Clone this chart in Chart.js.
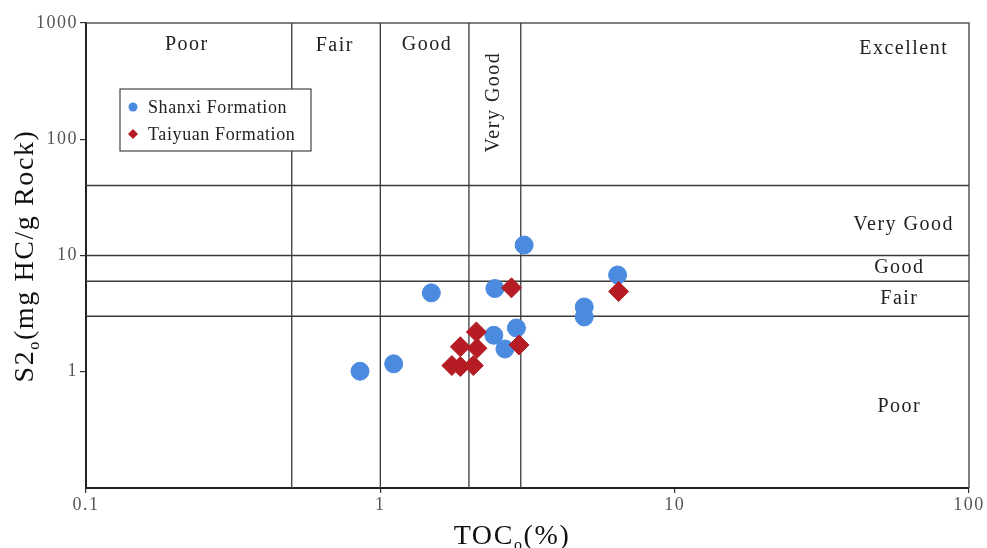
<!DOCTYPE html>
<html>
<head>
<meta charset="utf-8">
<script src="https://cdn.jsdelivr.net/npm/chart.js@4.4.1/dist/chart.umd.min.js"></script>
<style>
  html, body { margin: 0; padding: 0; background: #fff; }
</style>
</head>
<body>
<canvas id="chart" width="987" height="548"></canvas>
<script>
// TOC (%) and S2 (mg HC/g Rock)
const shanxiToc = [3.08, 1.49, 2.45, 6.4, 4.93, 4.93, 2.9, 2.43, 2.65, 1.11, 0.853];
const shanxiS2 = [12.3, 4.77, 5.2, 6.8, 3.61, 2.96, 2.38, 2.06, 1.57, 1.17, 1.01];
const taiyuanToc = [2.79, 6.45, 2.12, 1.87, 2.13, 2.96, 1.75, 1.87, 2.07];
const taiyuanS2 = [5.27, 4.9, 2.2, 1.64, 1.59, 1.7, 1.13, 1.11, 1.13];

// classification boundaries
const tocCuts = [0.5, 1, 2, 3];
const s2Cuts = [3, 6, 10, 40];

const xTicks = [0.1, 1, 10, 100];
const yTicks = [1, 10, 100, 1000];
const xRange = [0.1, 100];
const yRange = [0.1, 1000];

// zone names, anchored in data units
const tocZones = [
  { text: "Poor", x: 0.22, y: 650 },
  { text: "Fair", x: 0.70, y: 640 },
  { text: "Good", x: 1.44, y: 650 },
  { text: "Excellent", x: 60, y: 600 }
];
const s2Zones = [
  { text: "Very Good", x: 60, y: 18.3 },
  { text: "Good", x: 58, y: 7.8 },
  { text: "Fair", x: 58, y: 4.23 },
  { text: "Poor", x: 58, y: 0.5 }
];
const rotatedZone = { text: "Very Good", x: 2.43, y: 209 };

const SERIF = "'Liberation Serif', 'Times New Roman', serif";

function toPoints(xs, ys) {
  return xs.map((x, i) => ({ x: x, y: ys[i] }));
}

const cutLines = [];
tocCuts.forEach((c) => {
  cutLines.push({
    type: "line",
    data: [{ x: c, y: yRange[0] }, { x: c, y: yRange[1] }],
    borderColor: "#3a3a3a",
    borderWidth: 1.3,
    pointRadius: 0,
    order: 5,
  });
});
s2Cuts.forEach((c) => {
  cutLines.push({
    type: "line",
    data: [{ x: xRange[0], y: c }, { x: xRange[1], y: c }],
    borderColor: "#3a3a3a",
    borderWidth: 1.5,
    pointRadius: 0,
    order: 5,
  });
});

function drawSubText(ctx, parts, size, subSize) {
  // draws from current origin on baseline
  let w = 0;
  parts.forEach((p) => {
    ctx.font = (p.sub ? subSize : size) + "px " + SERIF;
    const mw = ctx.measureText(p.t).width;
    ctx.fillText(p.t, w, p.sub ? size * 0.22 : 0);
    w += mw;
  });
  return w;
}
function measureSubText(ctx, parts, size, subSize) {
  let w = 0;
  parts.forEach((p) => {
    ctx.font = (p.sub ? subSize : size) + "px " + SERIF;
    w += ctx.measureText(p.t).width;
  });
  return w;
}

const decorPlugin = {
  id: "decor",
  beforeDraw(chart) {
    chart.ctx.letterSpacing = "1.5px";
  },
  beforeDatasetsDraw(chart) {
    const { ctx, chartArea } = chart;
    ctx.save();
    ctx.strokeStyle = "#555";
    ctx.lineWidth = 1.5;
    ctx.beginPath();
    ctx.moveTo(chartArea.left, chartArea.top);
    ctx.lineTo(chartArea.right, chartArea.top);
    ctx.lineTo(chartArea.right, chartArea.bottom);
    ctx.stroke();
    ctx.restore();
  },
  afterDatasetsDraw(chart) {
    const { ctx } = chart;
    const xs = chart.scales.x;
    const ys = chart.scales.y;
    ctx.save();
    ctx.fillStyle = "#222";
    ctx.textAlign = "center";
    ctx.textBaseline = "middle";
    ctx.letterSpacing = "1.5px";
    ctx.font = "20px " + SERIF;
    tocZones.concat(s2Zones).forEach((z) => {
      ctx.fillText(z.text, xs.getPixelForValue(z.x), ys.getPixelForValue(z.y));
    });
    ctx.save();
    ctx.translate(xs.getPixelForValue(rotatedZone.x), ys.getPixelForValue(rotatedZone.y));
    ctx.rotate(-Math.PI / 2);
    ctx.fillText(rotatedZone.text, 0, 0);
    ctx.restore();

    // legend box
    const lx = 120, ly = 89, lw = 191, lh = 62;
    ctx.fillStyle = "#fff";
    ctx.fillRect(lx, ly, lw, lh);
    ctx.strokeStyle = "#444";
    ctx.lineWidth = 1.2;
    ctx.strokeRect(lx, ly, lw, lh);
    const items = chart.data.datasets.filter((d) => d.label);
    ctx.textAlign = "left";
    ctx.letterSpacing = "0.6px";
    ctx.font = "18px " + SERIF;
    items.forEach((d, i) => {
      const cy = ly + 18 + i * 27;
      ctx.fillStyle = d.backgroundColor;
      ctx.beginPath();
      if (d.pointStyle === "rectRot") {
        ctx.moveTo(lx + 13 - 5, cy);
        ctx.lineTo(lx + 13, cy - 5);
        ctx.lineTo(lx + 13 + 5, cy);
        ctx.lineTo(lx + 13, cy + 5);
        ctx.closePath();
      } else {
        ctx.arc(lx + 13, cy, 4.5, 0, Math.PI * 2);
      }
      ctx.fill();
      ctx.fillStyle = "#222";
      ctx.fillText(d.label, lx + 28, cy + 1);
    });

    // axis titles with subscript
    ctx.fillStyle = "#111";
    ctx.textBaseline = "alphabetic";
    ctx.letterSpacing = "1.6px";
    const yParts = [{ t: "S2" }, { t: "o", sub: true }, { t: "(mg HC/g Rock)" }];
    const yw = measureSubText(ctx, yParts, 28, 16);
    ctx.save();
    ctx.translate(33, 256 + yw / 2);
    ctx.rotate(-Math.PI / 2);
    drawSubText(ctx, yParts, 28, 16);
    ctx.restore();

    const xParts = [{ t: "TOC" }, { t: "o", sub: true }, { t: "(%)" }];
    const xw = measureSubText(ctx, xParts, 28, 16);
    ctx.save();
    ctx.translate(512 - xw / 2, 544);
    drawSubText(ctx, xParts, 28, 16);
    ctx.restore();
    ctx.restore();
  },
};

new Chart(document.getElementById("chart"), {
  type: "scatter",
  data: {
    datasets: [
      {
        label: "Shanxi Formation",
        data: toPoints(shanxiToc, shanxiS2),
        backgroundColor: "#4a8be0",
        borderColor: "#4a8be0",
        pointStyle: "circle",
        pointRadius: 9,
        order: 1,
      },
      {
        label: "Taiyuan Formation",
        data: toPoints(taiyuanToc, taiyuanS2),
        backgroundColor: "#b51c24",
        borderColor: "#b51c24",
        pointStyle: "rectRot",
        pointRadius: 10,
        order: 0,
      },
    ].concat(cutLines),
  },
  options: {
    responsive: false,
    animation: false,
    devicePixelRatio: 1,
    layout: { padding: { top: 23, right: 18, left: 0, bottom: 0 } },
    plugins: {
      legend: { display: false },
      tooltip: { enabled: false },
    },
    scales: {
      x: {
        type: "logarithmic",
        min: xRange[0],
        max: xRange[1],
        afterBuildTicks: (scale) => {
          scale.ticks = xTicks.map((v) => ({ value: v }));
        },
        afterFit: (scale) => {
          scale.height = 60;
        },
        ticks: {
          callback: (v) => String(v),
          color: "#555",
          font: { family: SERIF, size: 18 },
          padding: 1,
          maxRotation: 0,
        },
        grid: {
          display: true,
          drawOnChartArea: false,
          drawTicks: true,
          tickLength: 5,
          color: "#333",
          lineWidth: 1.2,
        },
        border: { display: true, color: "#222", width: 2 },
      },
      y: {
        type: "logarithmic",
        min: yRange[0],
        max: yRange[1],
        afterBuildTicks: (scale) => {
          scale.ticks = yTicks.map((v) => ({ value: v }));
        },
        afterFit: (scale) => {
          scale.width = 86;
        },
        ticks: {
          callback: (v) => String(v),
          color: "#555",
          font: { family: SERIF, size: 18 },
          padding: 2,
        },
        grid: {
          display: true,
          drawOnChartArea: false,
          drawTicks: true,
          tickLength: 6,
          color: "#333",
          lineWidth: 1.2,
        },
        border: { display: true, color: "#222", width: 2 },
      },
    },
  },
  plugins: [decorPlugin],
});
</script>
</body>
</html>
